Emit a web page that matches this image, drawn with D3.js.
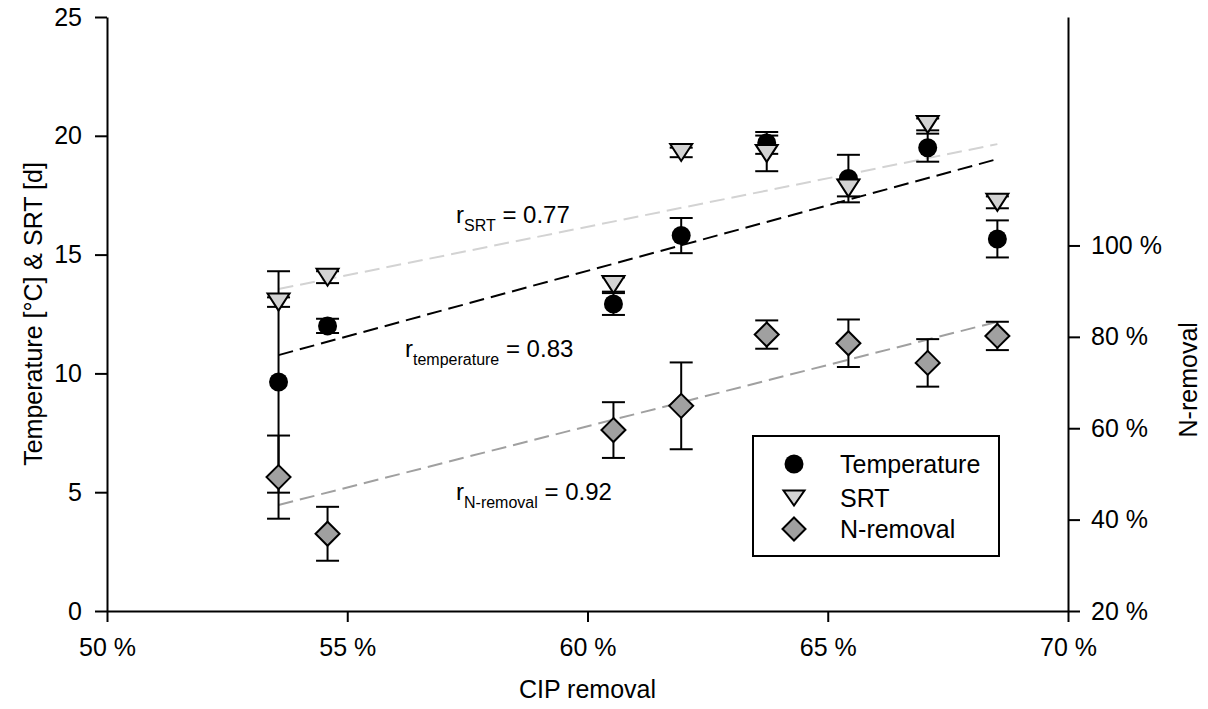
<!DOCTYPE html>
<html>
<head>
<meta charset="utf-8">
<script src="https://cdn.jsdelivr.net/npm/d3@7/dist/d3.min.js"></script>
<style>
  html, body { margin: 0; padding: 0; background: #fff; }
  svg { display: block; font-family: "Liberation Sans", Arial, sans-serif; }
</style>
</head>
<body>
<svg id="chart" width="1208" height="709"></svg>
<script>
// CIP removal (%) per sampling campaign
const cipRemoval = [53.57, 54.59, 60.54, 61.95, 63.73, 65.43, 67.08, 68.53];

// Temperature [°C] and its standard deviation
const temperature    = [9.64, 12.0, 12.92, 15.8, 19.7, 18.2, 19.5, 15.66];
const temperatureErr = [4.66, 0.3, 0.46, 0.74, 0.46, 1.0, 0.59, 0.78];

// Sludge retention time [d] and its standard deviation
const srt    = [13.0, 14.05, 13.74, 19.3, 19.26, 17.8, 20.48, 17.2];
const srtErr = [0.2, 0.25, 0.3, 0.2, 0.75, 0.35, 0.25, 0.25];

// Nitrogen removal (%) and its standard deviation
const nRemoval    = [49.3, 36.9, 59.6, 64.9, 80.5, 78.6, 74.3, 80.2];
const nRemovalErr = [9.1, 5.9, 6.1, 9.5, 3.1, 5.2, 5.2, 3.1];

// Linear fit end points (start / end value over the CIP range)
const fitX        = [53.57, 68.53];
const fitSrt      = [13.55, 19.65];
const fitTemp     = [10.77, 19.02];
const fitNRemoval = [43.2, 83.3];

// Axis ticks
const xTicks = [50, 55, 60, 65, 70];
const yLeftTicks = [0, 5, 10, 15, 20, 25];
const yRightTicks = [20, 40, 60, 80, 100];

const svg = d3.select("#chart");

const x = d3.scaleLinear().domain([50, 70]).range([107, 1068]);
const yL = d3.scaleLinear().domain([0, 25]).range([611, 17]);
const yR = d3.scaleLinear().domain([20, 150]).range([611, 17]);

const pct = d => d + " %";
const FONT = 25;

// Axes
function styleAxis(g) {
  g.selectAll("path.domain").attr("stroke", "#000").attr("stroke-width", 2);
  g.selectAll(".tick line").attr("stroke", "#000").attr("stroke-width", 2);
  g.selectAll(".tick text").attr("fill", "#000").attr("font-size", FONT)
    .attr("font-family", "Liberation Sans, Arial, sans-serif");
}

svg.append("g")
  .attr("transform", "translate(0,611)")
  .call(d3.axisBottom(x).tickValues(xTicks).tickFormat(pct)
        .tickSize(11).tickSizeOuter(0).tickPadding(16))
  .call(styleAxis);

svg.append("g")
  .attr("transform", "translate(107,0)")
  .call(d3.axisLeft(yL).tickValues(yLeftTicks)
        .tickSize(12).tickSizeOuter(0).tickPadding(13))
  .call(styleAxis);

svg.append("g")
  .attr("transform", "translate(1068,0)")
  .call(d3.axisRight(yR).tickValues(yRightTicks).tickFormat(pct)
        .tickSize(12).tickSizeOuter(0).tickPadding(11))
  .call(styleAxis);

// Axis titles
svg.append("text")
  .attr("x", x(60)).attr("y", 698)
  .attr("text-anchor", "middle").attr("font-size", FONT)
  .text("CIP removal");

svg.append("text")
  .attr("transform", `translate(42,${yL(12.5)}) rotate(-90)`)
  .attr("text-anchor", "middle").attr("font-size", FONT)
  .text("Temperature [°C] & SRT [d]");

svg.append("text")
  .attr("transform", `translate(1197,${yR(70.6)}) rotate(-90)`)
  .attr("text-anchor", "middle").attr("font-size", FONT)
  .text("N-removal");

// Regression lines
const fitLine = (scale) => d3.line().x((d, i) => x(fitX[i])).y(d => scale(d));

svg.append("path").datum(fitSrt)
  .attr("d", fitLine(yL))
  .attr("fill", "none").attr("stroke", "#d3d3d3").attr("stroke-width", 2)
  .attr("stroke-dasharray", "15,7");

svg.append("path").datum(fitTemp)
  .attr("d", fitLine(yL))
  .attr("fill", "none").attr("stroke", "#000").attr("stroke-width", 2)
  .attr("stroke-dasharray", "15,7");

svg.append("path").datum(fitNRemoval)
  .attr("d", fitLine(yR))
  .attr("fill", "none").attr("stroke", "#a0a0a0").attr("stroke-width", 2)
  .attr("stroke-dasharray", "15,7");

// Symbol shapes
const circlePath = d3.symbol().type(d3.symbolCircle).size(Math.PI * 9.5 * 9.5)();
const trianglePath = (w, h) => `M${-w / 2},${-h / 2}L${w / 2},${-h / 2}L0,${h / 2}Z`;
const diamondPath = (r) => `M0,${-r}L${r},0L0,${r}L${-r},0Z`;

// Error bars and markers for one series
function drawSeries(values, errors, scale, shape, fill, strokeW) {
  const g = svg.append("g");
  const cap = 11.5;
  const eb = g.selectAll("g.err").data(values).join("g").attr("class", "err");
  eb.append("line")
    .attr("x1", (d, i) => x(cipRemoval[i])).attr("x2", (d, i) => x(cipRemoval[i]))
    .attr("y1", (d, i) => scale(d + errors[i])).attr("y2", (d, i) => scale(d - errors[i]));
  eb.append("line")
    .attr("x1", (d, i) => x(cipRemoval[i]) - cap).attr("x2", (d, i) => x(cipRemoval[i]) + cap)
    .attr("y1", (d, i) => scale(d + errors[i])).attr("y2", (d, i) => scale(d + errors[i]));
  eb.append("line")
    .attr("x1", (d, i) => x(cipRemoval[i]) - cap).attr("x2", (d, i) => x(cipRemoval[i]) + cap)
    .attr("y1", (d, i) => scale(d - errors[i])).attr("y2", (d, i) => scale(d - errors[i]));
  eb.selectAll("line").attr("stroke", "#000").attr("stroke-width", 2);

  g.selectAll("path.mark").data(values).join("path").attr("class", "mark")
    .attr("d", shape)
    .attr("transform", (d, i) => `translate(${x(cipRemoval[i])},${scale(d)})`)
    .attr("fill", fill).attr("stroke", "#000").attr("stroke-width", strokeW);
}

drawSeries(temperature, temperatureErr, yL, circlePath, "#000", 0);
drawSeries(srt, srtErr, yL, trianglePath(22, 17), "#d3d3d3", 2);
drawSeries(nRemoval, nRemovalErr, yR, diamondPath(12), "#a0a0a0", 2);

// Correlation annotations
function rLabel(xPos, yPos, sub, value) {
  const t = svg.append("text").attr("x", xPos).attr("y", yPos).attr("font-size", 24);
  t.append("tspan").text("r");
  t.append("tspan").attr("font-size", 16).attr("dy", 8).text(sub);
  t.append("tspan").attr("dy", -8).text(" = " + value);
}
rLabel(456, 223, "SRT", "0.77");
rLabel(405, 357, "temperature", "0.83");
rLabel(456, 500, "N-removal", "0.92");

// Legend
const legend = svg.append("g");
legend.append("rect")
  .attr("x", 753).attr("y", 436).attr("width", 246).attr("height", 120)
  .attr("fill", "#fff").attr("stroke", "#000").attr("stroke-width", 2);

const legendItems = [
  { label: "Temperature", shape: circlePath, fill: "#000", sw: 0, y: 464 },
  { label: "SRT", shape: trianglePath(21, 15), fill: "#d3d3d3", sw: 2, y: 498 },
  { label: "N-removal", shape: diamondPath(11.5), fill: "#a0a0a0", sw: 2, y: 529 }
];
const li = legend.selectAll("g.item").data(legendItems).join("g").attr("class", "item");
li.append("path")
  .attr("d", d => d.shape)
  .attr("transform", d => `translate(794,${d.y})`)
  .attr("fill", d => d.fill).attr("stroke", "#000").attr("stroke-width", d => d.sw);
li.append("text")
  .attr("x", 840).attr("y", d => d.y + 9)
  .attr("font-size", FONT)
  .text(d => d.label);
</script>
</body>
</html>
